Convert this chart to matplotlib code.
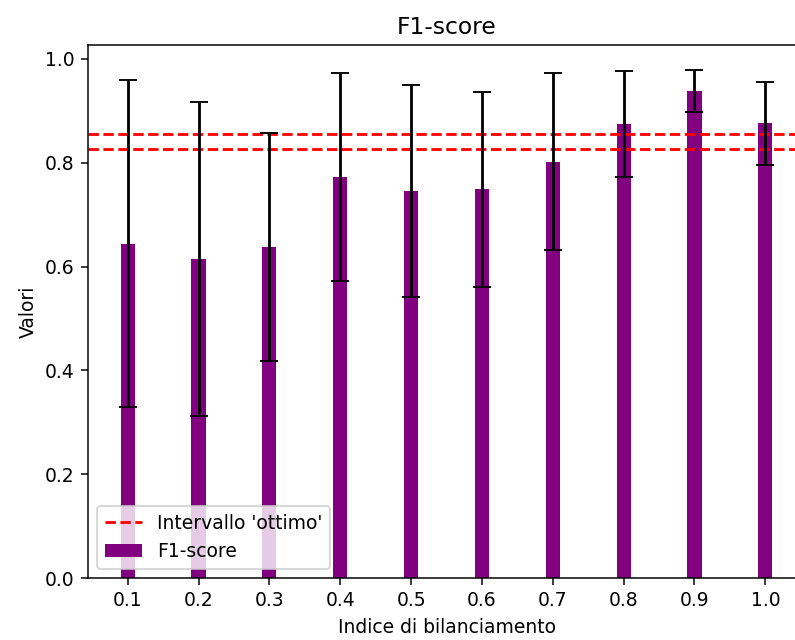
import matplotlib
matplotlib.use("Agg")
import matplotlib.pyplot as plt

indici = [0.1, 0.2, 0.3, 0.4, 0.5, 0.6, 0.7, 0.8, 0.9, 1.0]
f1_media = [0.644, 0.615, 0.638, 0.772, 0.746, 0.749, 0.802, 0.875, 0.938, 0.876]
f1_std = [0.315, 0.302, 0.220, 0.200, 0.204, 0.188, 0.171, 0.102, 0.040, 0.080]
ottimo_basso = 0.827
ottimo_alto = 0.856
tick_labels = ["0.1", "0.2", "0.3", "0.4", "0.5", "0.6", "0.7", "0.8", "0.9", "1.0"]

dpi = 135
fig = plt.figure(figsize=(795 / dpi, 640 / dpi), dpi=dpi)
ax = fig.add_axes([88 / 795, 62 / 640, (805 - 88) / 795, 533 / 640])

ax.axhline(ottimo_alto, color="red", linestyle="--", label="Intervallo 'ottimo'")
ax.axhline(ottimo_basso, color="red", linestyle="--")
ax.bar(indici, f1_media, width=0.02, yerr=f1_std, capsize=5, color="purple",
       ecolor="black", label="F1-score")

ax.set_xticks(indici)
ax.set_xticklabels(tick_labels)
ax.set_title("F1-score", fontsize=12.5)
ax.set_xlabel("Indice di bilanciamento")
ax.set_ylabel("Valori")
ax.legend(loc="lower left")
# the right edge of the axes lies beyond the canvas in the reference
ax.spines["right"].set_visible(False)

fig.savefig("out.png", dpi=dpi)
